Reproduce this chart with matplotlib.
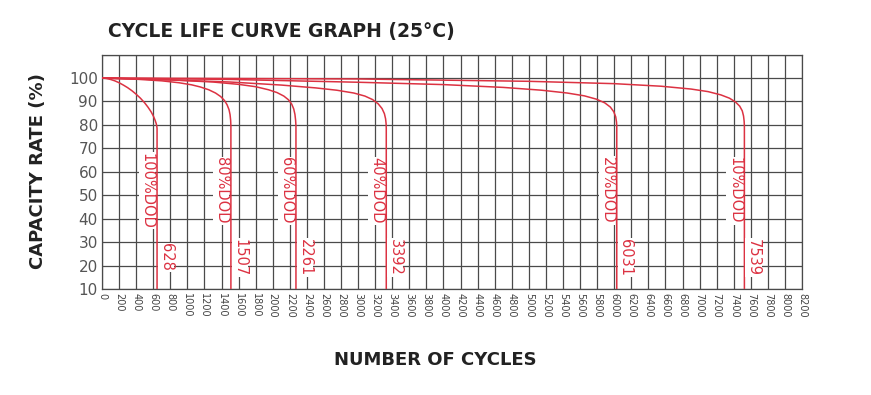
import numpy as np
import matplotlib
matplotlib.use("Agg")
from matplotlib import pyplot as plt

# Curve data (cycles, capacity %)
dod_labels = ["100%DOD", "80%DOD", "60%DOD", "40%DOD", "20%DOD", "10%DOD"]
end_labels = ["628", "1507", "2261", "3392", "6031", "7539"]

dod100_x = [0, 50, 100, 150, 200, 250, 300, 350, 400, 450, 500, 540, 575, 600, 620, 635, 642, 645, 645]
dod100_y = [100, 99.8, 99.4, 98.8, 98.0, 97.0, 95.9, 94.6, 93.1, 91.4, 89.4, 87.5, 85.6, 83.9, 82.2, 80.6, 79.4, 78.5, 10]

dod80_x = [0, 400, 700, 900, 1050, 1150, 1250, 1330, 1390, 1435, 1465, 1488, 1500, 1507, 1510, 1510]
dod80_y = [100, 99.5, 98.8, 98.0, 97.1, 96.2, 95.0, 93.6, 92.1, 90.4, 88.6, 86.5, 84.4, 82.0, 79.5, 10]

dod60_x = [0, 800, 1300, 1600, 1800, 1950, 2050, 2130, 2185, 2222, 2246, 2260, 2268, 2272, 2272]
dod60_y = [100, 99.2, 98.3, 97.3, 96.3, 95.0, 93.8, 92.3, 90.7, 88.9, 86.8, 84.5, 82.0, 79.5, 10]

dod40_x = [0, 800, 1500, 2100, 2500, 2750, 2950, 3080, 3170, 3235, 3280, 3308, 3322, 3328, 3330, 3330]
dod40_y = [100, 99.2, 98.3, 97.0, 95.8, 94.8, 93.6, 92.3, 90.8, 89.0, 87.0, 84.8, 82.6, 80.5, 78.5, 10]

dod20_x = [0, 1500, 3000, 4000, 4700, 5150, 5450, 5650, 5790, 5890, 5955, 5995, 6018, 6027, 6030, 6030]
dod20_y = [100, 99.4, 98.2, 97.2, 96.0, 94.8, 93.6, 92.4, 91.0, 89.4, 87.6, 85.6, 83.4, 81.2, 79.3, 10]

dod10_x = [0, 3000, 5000, 6000, 6550, 6900, 7100, 7250, 7350, 7420, 7470, 7500, 7515, 7522, 7525, 7525]
dod10_y = [100, 99.6, 98.6, 97.6, 96.5, 95.3, 94.2, 92.8, 91.4, 89.8, 88.0, 86.0, 83.8, 81.6, 79.5, 10]

curves_x = [dod100_x, dod80_x, dod60_x, dod40_x, dod20_x, dod10_x]
curves_y = [dod100_y, dod80_y, dod60_y, dod40_y, dod20_y, dod10_y]

x_ticks = list(range(0, 8201, 200))
y_ticks = [10, 20, 30, 40, 50, 60, 70, 80, 90, 100]

red = "#dc3242"
grid_col = "#4a4a4a"

fig = plt.figure(figsize=(8.71, 3.95), dpi=100)
ax = fig.add_axes([0.1171, 0.2684, 0.8037, 0.5934])

for cx, cy, dl, el in zip(curves_x, curves_y, dod_labels, end_labels):
    ax.plot(cx, cy, color=red, lw=1.1, zorder=3, solid_joinstyle="round")
    xe = cx[-1]
    ax.text(xe - 115, 52, dl, rotation=-90, ha="center", va="center",
            color=red, fontsize=10.5, zorder=4,
            bbox=dict(boxstyle="square,pad=0.05", fc="white", ec="none"))
    ax.text(xe + 105, 23.5, el, rotation=-90, ha="center", va="center",
            color=red, fontsize=10.5, zorder=4,
            bbox=dict(boxstyle="square,pad=0.05", fc="white", ec="none"))

ax.set_xlim(0, 8200)
ax.set_ylim(10, 110)
ax.set_xticks(x_ticks)
ax.set_xticklabels([str(t) for t in x_ticks], rotation=-90, fontsize=7, color="#444444")
ax.set_yticks(y_ticks + [110])
ax.set_yticklabels([str(t) for t in y_ticks] + [""], fontsize=11, color="#555555")
ax.tick_params(length=0, pad=3)
ax.grid(True, color=grid_col, lw=0.9, zorder=1)
ax.set_axisbelow(True)
for s in ax.spines.values():
    s.set_color(grid_col)
    s.set_linewidth(0.9)

fig.text(0.124, 0.919, "CYCLE LIFE CURVE GRAPH (25°C)", fontsize=13.5, fontweight="bold",
         color="#222222", ha="left", va="center")
fig.text(0.044, 0.567, "CAPACITY RATE (%)", fontsize=13, fontweight="bold",
         color="#222222", ha="center", va="center", rotation=90)
fig.text(0.5, 0.089, "NUMBER OF CYCLES", fontsize=13, fontweight="bold",
         color="#222222", ha="center", va="center")

fig.savefig("out.png", dpi=100)
